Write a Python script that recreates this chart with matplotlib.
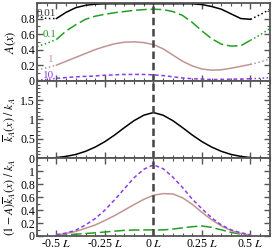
"""Occupation A(x) and binding rate profiles across the channel."""

import matplotlib

matplotlib.use("Agg")
import matplotlib.pyplot as plt
from matplotlib.ticker import MultipleLocator

plt.rcParams["font.family"] = ["Liberation Serif", "DejaVu Serif"]
plt.rcParams["mathtext.fontset"] = "stix"

# positions along the channel, in units of L
x_full = [-0.6, -0.55, -0.5, -0.45, -0.4, -0.35, -0.3, -0.25, -0.2, -0.15, -0.1, -0.05,
          0.0, 0.05, 0.1, 0.15, 0.2, 0.25, 0.3, 0.35, 0.4, 0.45, 0.5, 0.55, 0.6]
x_inner = x_full[2:-2]

k_labels = ["0.01", "0.1", "1", "10"]

# A(x) for each k, read over x_full
a_k001 = [0.83, 0.80, 0.80, 0.88, 0.94, 0.97, 0.985, 0.99, 0.99, 0.99, 0.99, 0.99,
          0.99, 0.99, 0.99, 0.99, 0.99, 0.98, 0.955, 0.92, 0.86, 0.80, 0.79, 0.85, 0.92]
a_k01 = [0.44, 0.48, 0.53, 0.64, 0.72, 0.79, 0.83, 0.855, 0.875, 0.89, 0.905, 0.915,
         0.92, 0.915, 0.89, 0.84, 0.75, 0.64, 0.54, 0.47, 0.445, 0.45, 0.52, 0.59, 0.67]
a_k1 = [0.14, 0.165, 0.20, 0.25, 0.30, 0.35, 0.40, 0.44, 0.475, 0.495, 0.50, 0.49,
        0.465, 0.41, 0.33, 0.25, 0.19, 0.15, 0.135, 0.14, 0.16, 0.185, 0.21, 0.24, 0.28]
a_k10 = [0.01, 0.015, 0.03, 0.04, 0.05, 0.055, 0.06, 0.07, 0.075, 0.08, 0.08, 0.08,
         0.075, 0.065, 0.05, 0.035, 0.025, 0.02, 0.015, 0.015, 0.02, 0.02, 0.025, 0.03, 0.04]

# mean binding rate profile, read over x_inner
k_bar = [0.02, 0.05, 0.10, 0.18, 0.29, 0.43, 0.60, 0.79, 0.97, 1.11, 1.18,
         1.11, 0.97, 0.79, 0.60, 0.43, 0.29, 0.18, 0.10, 0.05, 0.02]

# (1 - A) k_bar / k_A, read over x_inner
free_k01 = [0.01, 0.018, 0.028, 0.038, 0.049, 0.062, 0.075, 0.087, 0.092, 0.094, 0.094,
            0.094, 0.107, 0.126, 0.144, 0.155, 0.133, 0.095, 0.056, 0.028, 0.01]
free_k1 = [0.016, 0.04, 0.07, 0.12, 0.17, 0.24, 0.315, 0.40, 0.485, 0.566, 0.63,
           0.655, 0.65, 0.59, 0.49, 0.365, 0.25, 0.155, 0.084, 0.04, 0.016]
free_k10 = [0.02, 0.045, 0.09, 0.17, 0.27, 0.40, 0.56, 0.73, 0.90, 1.03, 1.10,
            1.04, 0.91, 0.75, 0.57, 0.42, 0.28, 0.17, 0.095, 0.05, 0.02]

tick_values = [-0.5, -0.25, 0.0, 0.25, 0.5]
tick_labels = ["-0.5 $L$", "-0.25 $L$", "0 $L$", "0.25 $L$", "0.5 $L$"]

BLACK = "#000000"
GREEN = "#22a022"
BROWN = "#c09494"
PURPLE = "#8a3ee6"
SPINE = "#555555"

styles = [
    (BLACK, "-", 1.1),
    (GREEN, (0, (7, 2.5)), 1.1),
    (BROWN, "-", 1.1),
    (PURPLE, (0, (2.5, 1.8)), 1.1),
]

fig = plt.figure(figsize=(2.74, 2.5), dpi=100)
grid = fig.add_gridspec(3, 1, left=0.135, right=0.985, top=0.988, bottom=0.056, hspace=0)
axes = [fig.add_subplot(grid[i]) for i in range(3)]

# top panel: A(x)
ax = axes[0]
a_series = [a_k001, a_k01, a_k1, a_k10]
for values, (color, ls, lw) in zip(a_series, styles):
    ax.plot(x_full[:3], values[:3], color=color, ls=":", lw=lw)
    ax.plot(x_full[-3:], values[-3:], color=color, ls=":", lw=lw)
    ax.plot(x_inner, values[2:-2], color=color, ls=ls, lw=lw)
label_pos = [(-0.6, 0.86), (-0.57, 0.60), (-0.545, 0.27), (-0.57, 0.07)]
label_colors = ["#333333", GREEN, BROWN, PURPLE]
for text, (tx, ty), color in zip(k_labels, label_pos, label_colors):
    ax.text(tx, ty, text, color=color, fontsize=8, va="center", ha="left")
ax.set_ylim(0, 1)
ax.set_yticks([0, 0.2, 0.4, 0.6, 0.8])
ax.set_yticklabels(["0", "0.2", "0.4", "0.6", "0.8"])
ax.yaxis.set_minor_locator(MultipleLocator(0.1))
ax.set_ylabel("$A(x)$", fontsize=9)

# middle panel: mean binding rate
ax = axes[1]
ax.plot(x_inner, k_bar, color=BLACK, lw=1.1)
ax.set_ylim(0, 2)
ax.set_yticks([0, 0.5, 1, 1.5])
ax.set_yticklabels(["0", "0.5", "1", "1.5"])
ax.yaxis.set_minor_locator(MultipleLocator(0.1))
ax.set_ylabel(r"$\overline{k}_A(x)\ /\ k_A$", fontsize=8.5)

# bottom panel: free binding rate
ax = axes[2]
for values, (color, ls, lw) in zip([free_k01, free_k1, free_k10], styles[1:]):
    ax.plot(x_inner, values, color=color, ls=ls, lw=lw)
ax.set_ylim(0, 1.2)
ax.set_yticks([0, 0.2, 0.4, 0.6, 0.8, 1.0])
ax.set_yticklabels(["0", "0.2", "0.4", "0.6", "0.8", "1"])
ax.yaxis.set_minor_locator(MultipleLocator(0.1))
ax.set_ylabel(r"$(1-A)\overline{k}_A(x)\ /\ k_A$", fontsize=8.5)

for index, ax in enumerate(axes):
    ax.axvline(0, color="#444444", ls=(0, (3, 1.5)), lw=1.8, zorder=5)
    ax.set_xlim(-0.6, 0.6)
    ax.set_xticks(tick_values)
    ax.xaxis.set_minor_locator(MultipleLocator(0.05))
    if index == 2:
        ax.set_xticklabels(tick_labels)
    else:
        ax.set_xticklabels([])
    ax.tick_params(which="both", direction="in", top=True, right=True,
                   colors=SPINE, labelcolor="black", labelsize=8.5, pad=1.5)
    ax.tick_params(which="major", length=4, width=1)
    ax.tick_params(which="minor", length=2, width=0.8)
    for spine in ax.spines.values():
        spine.set_color(SPINE)
        spine.set_linewidth(1.3)
    ax.yaxis.set_label_coords(-0.08, 0.5)

fig.savefig("out.png", dpi=100)
